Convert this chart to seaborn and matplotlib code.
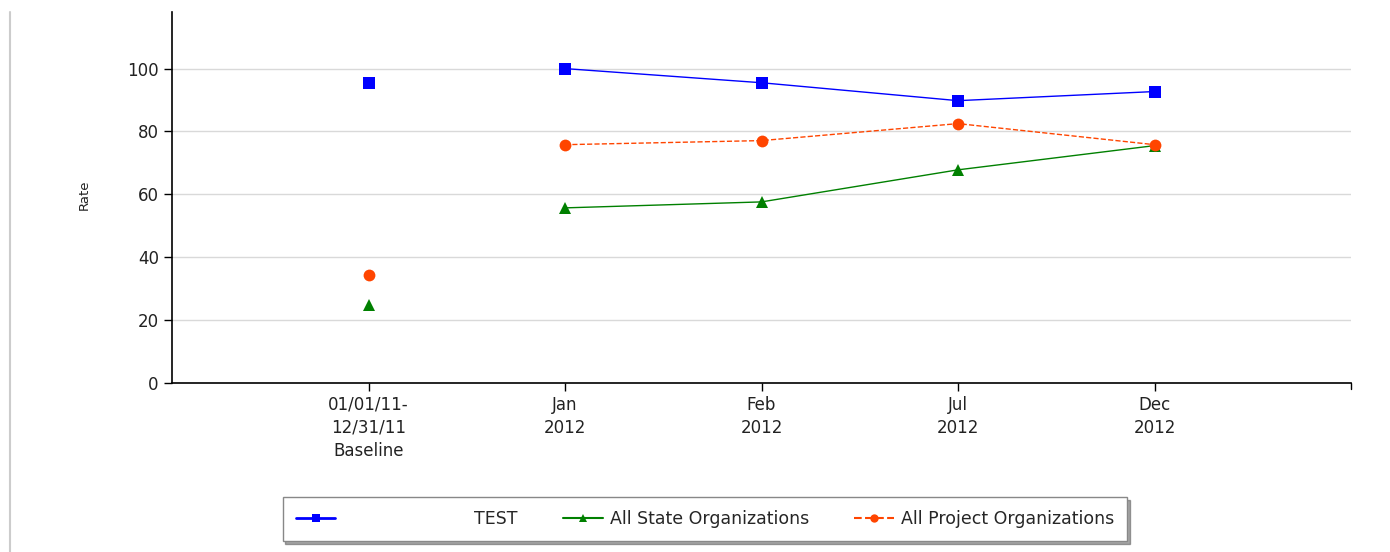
import numpy as np
import pandas as pd
import matplotlib
matplotlib.use("Agg")
import matplotlib.pyplot as plt
import seaborn as sns
from matplotlib.lines import Line2D

# data
periods = ["01/01/11-\n12/31/11\nBaseline", "Jan\n2012", "Feb\n2012", "Jul\n2012", "Dec\n2012"]
test_vals = [95.5, 100.0, 95.5, 89.8, 92.7]
state_vals = [24.8, 55.7, 57.6, 67.8, 75.5]
project_vals = [34.4, 75.8, 77.1, 82.5, 75.8]

series_names = ["TEST", "All State Organizations", "All Project Organizations"]
colors = {"TEST": "#0000FF", "All State Organizations": "#008000",
          "All Project Organizations": "#FF4500"}
markers = {"TEST": "s", "All State Organizations": "^", "All Project Organizations": "o"}
msizes = {"TEST": 9, "All State Organizations": 8, "All Project Organizations": 8.5}
dashes = {"TEST": "-", "All State Organizations": "-", "All Project Organizations": "--"}

rows = []
for name, vals in zip(series_names, [test_vals, state_vals, project_vals]):
    for i, v in enumerate(vals):
        rows.append({"x": i, "period": periods[i], "series": name, "rate": v})
df = pd.DataFrame(rows)

sns.set_style("white")
plt.rcParams["font.family"] = ["DejaVu Sans"]

fig = plt.figure(figsize=(13.9, 5.52), dpi=100)
ax = fig.add_axes([172 / 1390, 1 - 383 / 552, (1351 - 172) / 1390, (383 - 12) / 552])

for name in series_names:
    sub = df[df["series"] == name]
    base = sub[sub["x"] == 0]
    rest = sub[sub["x"] > 0]
    # connected line for 2012 points
    sns.lineplot(data=rest, x="x", y="rate", ax=ax, color=colors[name],
                 linewidth=1.0, linestyle=dashes[name], marker=markers[name],
                 markersize=msizes[name], markeredgewidth=0, zorder=3)
    # baseline shown as a separate, unconnected point
    ax.plot(base["x"], base["rate"], linestyle="none", marker=markers[name],
            color=colors[name], markersize=msizes[name], markeredgewidth=0, zorder=3)

ax.set_xlim(-1, 5)
ax.set_ylim(0, 118)
ax.set_xticks(range(len(periods)))
ax.set_xticklabels(periods, fontsize=12, color="#222222", linespacing=1.38)
ax.set_yticks([0, 20, 40, 60, 80, 100])
ax.tick_params(axis="y", labelsize=12, colors="#222222", direction="out", length=6, width=1)
ax.tick_params(axis="x", direction="out", length=6, width=1, pad=3)
ax.tick_params(axis="both", which="both", color="black", left=True, bottom=True)
ax.yaxis.grid(True, color="#d9d9d9", linewidth=1)
ax.xaxis.grid(False)
ax.set_axisbelow(True)
for s in ["top", "right"]:
    ax.spines[s].set_visible(False)
for s in ["left", "bottom"]:
    ax.spines[s].set_color("black")
    ax.spines[s].set_linewidth(1.2)
ax.set_xlabel("")
ax.set_ylabel("")
fig.text(84 / 1390, 1 - 195 / 552, "Rate", rotation=90, ha="center", va="center",
         fontsize=9.5, color="#222222")

# tick at the right end of the x axis
ax.add_line(Line2D([1, 1], [0, -6 / 371], transform=ax.transAxes, color="black",
                   linewidth=1, clip_on=False))

# page border line on the left
fig.add_artist(Line2D([10 / 1390, 10 / 1390], [0, 1 - 12 / 552], color="#cccccc", linewidth=1.5))

handles = [Line2D([], [], color=colors[n], linestyle=dashes[n], linewidth=2 if n == "TEST" else 1.5,
                  marker=markers[n], markersize=6, markeredgewidth=0) for n in series_names]
labels = ["                        TEST", "All State Organizations", "All Project Organizations"]
leg = fig.legend(handles, labels, loc="center", bbox_to_anchor=(705 / 1390, 1 - 519 / 552),
                 ncol=3, fontsize=12.5, frameon=True, fancybox=False, shadow=True,
                 handlelength=2.3, handletextpad=0.4, columnspacing=2.6, borderpad=0.75)
leg.get_frame().set_edgecolor("#888888")
leg.get_frame().set_linewidth(1)

fig.savefig("out.png", dpi=100)
